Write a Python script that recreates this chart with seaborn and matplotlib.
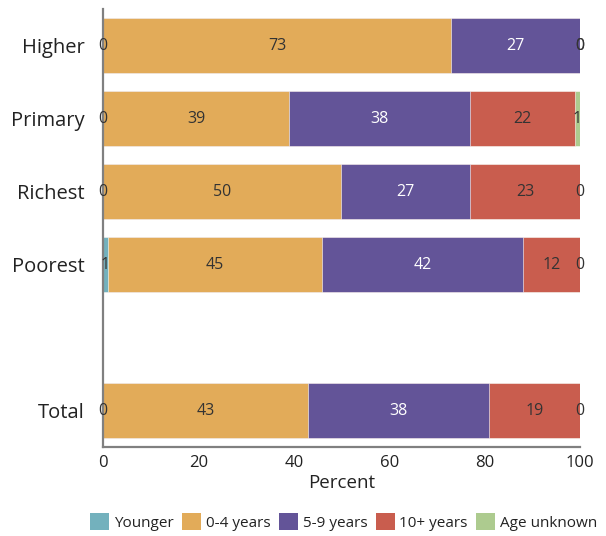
import matplotlib
matplotlib.use("Agg")
import matplotlib.pyplot as plt
import seaborn as sns
import pandas as pd
import numpy as np
from matplotlib.patches import Patch

# Groups (blank slot separates the subgroups from the total)
groups = ["Higher", "Primary", "Richest", "Poorest", "Total"]
order = ["Higher", "Primary", "Richest", "Poorest", "", "Total"]

series = ["Younger", "0-4 years", "5-9 years", "10+ years", "Age unknown"]
younger = [0, 0, 0, 1, 0]
yrs_0_4 = [73, 39, 50, 45, 43]
yrs_5_9 = [27, 38, 27, 42, 38]
yrs_10p = [0, 22, 23, 12, 19]
unknown = [0, 1, 0, 0, 0]

colors = ["#73b1bd", "#e2ab59", "#635498", "#c95d4e", "#adcb8f"]
label_colors = ["#333333", "#333333", "#ffffff", "#333333", "#333333"]

sns.set_theme(style="white")
plt.rcParams["font.family"] = ["Open Sans", "DejaVu Sans"]

values = np.array([younger, yrs_0_4, yrs_5_9, yrs_10p, unknown], dtype=float)
cum = np.cumsum(values, axis=0)

fig = plt.figure(figsize=(6.06, 5.36), dpi=100)
ax = fig.add_axes([0.170, 0.166, 0.787, 0.817])

# Stack by overdrawing cumulative totals, widest first
for i in range(len(series) - 1, -1, -1):
    df = pd.DataFrame({"group": groups, "cum": cum[i]})
    sns.barplot(data=df, x="cum", y="group", order=order, orient="y",
                color=colors[i], saturation=1, width=0.75,
                edgecolor="white", linewidth=0.4, ax=ax)

# Segment value labels
pos = {g: order.index(g) for g in groups}
for i in range(len(series)):
    for j, g in enumerate(groups):
        v = values[i, j]
        center = cum[i, j] - v / 2
        ax.text(center, pos[g], f"{int(v)}", ha="center", va="center",
                fontsize=11.5, color=label_colors[i])

ax.set_xlim(0, 100)
ax.set_ylim(5.5, -0.5)
ax.set_xticks([0, 20, 40, 60, 80, 100])
ax.tick_params(axis="x", labelsize=12, length=0, pad=6, colors="#222222")
ax.tick_params(axis="y", labelsize=14.5, length=0, pad=13, colors="#222222")
ax.set_xlabel("Percent", fontsize=13.5, color="#222222", labelpad=2)
ax.set_ylabel("")
for s in ["top", "right"]:
    ax.spines[s].set_visible(False)
for s in ["left", "bottom"]:
    ax.spines[s].set_color("#808080")
    ax.spines[s].set_linewidth(1.6)

handles = [Patch(facecolor=c, edgecolor="none") for c in colors]
fig.legend(handles, series, loc="center", bbox_to_anchor=(0.567, 0.026),
           ncol=5, frameon=False, fontsize=11, handlelength=1.25,
           handleheight=1.25, handletextpad=0.3, columnspacing=0.55,
           borderpad=0, labelcolor="#222222")

fig.savefig("out.png", dpi=100)
